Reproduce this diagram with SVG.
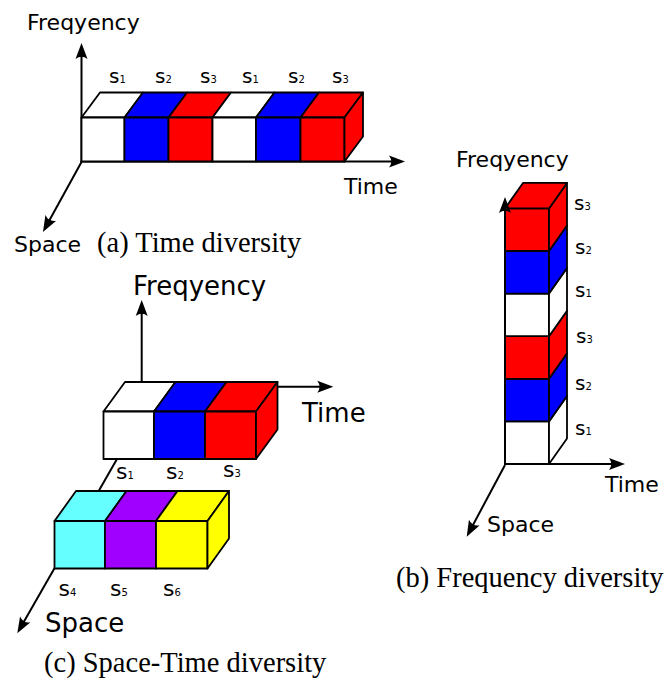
<svg xmlns="http://www.w3.org/2000/svg" width="666" height="679" viewBox="0 0 666 679">
<style>
.ax{stroke:#000;stroke-width:2;fill:none;marker-end:url(#ah)}
.c{stroke:#000;stroke-width:1.8;stroke-linejoin:round}
.w{fill:#fff}.b{fill:#0000ff}.r{fill:#ff0000}.cy{fill:#66ffff}.p{fill:#a000ff}.y{fill:#ffff00}
.lab{font-family:"DejaVu Sans",Verdana,sans-serif;fill:#000}
.cap{font-family:"Liberation Serif","Times New Roman",serif;font-size:28.5px;fill:#000}
.s{font-family:"DejaVu Sans",Verdana,sans-serif;font-size:20px;fill:#000}
.s2{font-family:"DejaVu Sans",Verdana,sans-serif;font-size:22px;fill:#000}
.sub{font-size:10px}
</style>
<defs>
<marker id="ah" markerUnits="userSpaceOnUse" markerWidth="30" markerHeight="30" viewBox="-15 -15 30 30" refX="0" refY="0" orient="auto">
<path d="M4,0 L-12,-6 Q-7.5,0 -12,6 Z" fill="#000"/>
</marker>
</defs>

<g id="connectors">
<line class="ax" x1="81.5" y1="162" x2="81.5" y2="47"/>
<line class="ax" x1="80.5" y1="161.5" x2="401" y2="161.5"/>
<line class="ax" x1="81.5" y1="162" x2="44.9" y2="228.5"/>
<line class="ax" x1="141.7" y1="405" x2="141.7" y2="304"/>
<line class="ax" x1="250" y1="386.7" x2="329.3" y2="386.7"/>
<line class="ax" x1="125" y1="445" x2="19.3" y2="629.8"/>
<line class="ax" x1="504" y1="464" x2="621" y2="464"/>
<line class="ax" x1="505" y1="465" x2="468.6" y2="533.2"/>
</g>

<g id="panel-a">
<g id="a-cube1"><polygon class="c w" points="81.5,117.5 124.5,117.5 143,92.5 100,92.5"/><rect class="c w" x="81.5" y="117.5" width="43" height="44"/></g>
<g id="a-cube2"><polygon class="c b" points="124.5,117.5 168.5,117.5 187,92.5 143,92.5"/><rect class="c b" x="124.5" y="117.5" width="44" height="44"/></g>
<g id="a-cube3"><polygon class="c r" points="168.5,117.5 212.5,117.5 231,92.5 187,92.5"/><rect class="c r" x="168.5" y="117.5" width="44" height="44"/></g>
<g id="a-cube4"><polygon class="c w" points="212.5,117.5 256,117.5 274.5,92.5 231,92.5"/><rect class="c w" x="212.5" y="117.5" width="43.5" height="44"/></g>
<g id="a-cube5"><polygon class="c b" points="256,117.5 300.5,117.5 319,92.5 274.5,92.5"/><rect class="c b" x="256" y="117.5" width="44.5" height="44"/></g>
<g id="a-cube6"><polygon class="c r" points="300.5,117.5 344.5,117.5 363,92.5 319,92.5"/><rect class="c r" x="300.5" y="117.5" width="44" height="44"/><polygon class="c r" points="344.5,117.5 363,92.5 363,136.5 344.5,161.5"/></g>
<g id="a-labels">
<text class="s" x="109" y="82.5">s<tspan class="sub">1</tspan></text>
<text class="s" x="155" y="82.5">s<tspan class="sub">2</tspan></text>
<text class="s" x="200" y="82.5">s<tspan class="sub">3</tspan></text>
<text class="s" x="242" y="82.5">s<tspan class="sub">1</tspan></text>
<text class="s" x="288" y="82.5">s<tspan class="sub">2</tspan></text>
<text class="s" x="332" y="82.5">s<tspan class="sub">3</tspan></text>
<text class="lab" x="27" y="30" font-size="22">Freqyency</text>
<text class="lab" x="344" y="194" font-size="22">Time</text>
<text class="lab" x="14" y="252" font-size="22">Space</text>
<text class="cap" x="97" y="252">(a) Time diversity</text>
</g>
</g>

<g id="panel-b">
<g id="b-cube1"><rect class="c w" x="505" y="421.4" width="44" height="42.6"/><polygon class="c w" points="549,421.4 567,395.9 567,438.5 549,464"/></g>
<g id="b-cube2"><rect class="c b" x="505" y="378.8" width="44" height="42.6"/><polygon class="c b" points="549,378.8 567,353.3 567,395.9 549,421.4"/></g>
<g id="b-cube3"><rect class="c r" x="505" y="336.2" width="44" height="42.6"/><polygon class="c r" points="549,336.2 567,310.7 567,353.3 549,378.8"/></g>
<g id="b-cube4"><rect class="c w" x="505" y="293.6" width="44" height="42.6"/><polygon class="c w" points="549,293.6 567,268.1 567,310.7 549,336.2"/></g>
<g id="b-cube5"><rect class="c b" x="505" y="251" width="44" height="42.6"/><polygon class="c b" points="549,251 567,225.5 567,268.1 549,293.6"/></g>
<g id="b-cube6"><rect class="c r" x="505" y="208.4" width="44" height="42.6"/><polygon class="c r" points="549,208.4 567,182.9 567,225.5 549,251"/><polygon class="c r" points="505,208.4 549,208.4 567,182.9 523,182.9"/></g>
<line class="ax" x1="505" y1="465" x2="505" y2="201"/>
<g id="b-labels">
<text class="s" x="574" y="210">s<tspan class="sub">3</tspan></text>
<text class="s" x="575" y="254">s<tspan class="sub">2</tspan></text>
<text class="s" x="575" y="297">s<tspan class="sub">1</tspan></text>
<text class="s" x="576" y="342.5">s<tspan class="sub">3</tspan></text>
<text class="s" x="575" y="390">s<tspan class="sub">2</tspan></text>
<text class="s" x="575" y="435">s<tspan class="sub">1</tspan></text>
<text class="lab" x="456" y="166.5" font-size="22">Freqyency</text>
<text class="lab" x="605" y="492" font-size="22">Time</text>
<text class="lab" x="487" y="531.5" font-size="22">Space</text>
<text class="cap" x="396" y="587">(b) Frequency diversity</text>
</g>
</g>

<g id="panel-c">
<g id="c-cube1"><polygon class="c w" points="103.5,411.5 154,411.5 175.5,382 125,382"/><rect class="c w" x="103.5" y="411.5" width="50.5" height="47.5"/></g>
<g id="c-cube2"><polygon class="c b" points="154,411.5 205,411.5 226.5,382 175.5,382"/><rect class="c b" x="154" y="411.5" width="51" height="47.5"/></g>
<g id="c-cube3"><polygon class="c r" points="205,411.5 256,411.5 277.5,382 226.5,382"/><rect class="c r" x="205" y="411.5" width="51" height="47.5"/><polygon class="c r" points="256,411.5 277.5,382 277.5,429.5 256,459"/></g>
<g id="c-cube4"><polygon class="c cy" points="54.5,521 105,521 126.5,491 76,491"/><rect class="c cy" x="54.5" y="521" width="50.5" height="47.5"/></g>
<g id="c-cube5"><polygon class="c p" points="105,521 156,521 177.5,491 126.5,491"/><rect class="c p" x="105" y="521" width="51" height="47.5"/></g>
<g id="c-cube6"><polygon class="c y" points="156,521 207.5,521 229,491 177.5,491"/><rect class="c y" x="156" y="521" width="51.5" height="47.5"/><polygon class="c y" points="207.5,521 229,491 229,538.5 207.5,568.5"/></g>
<g id="c-labels">
<text class="s2" x="116" y="478.5">s<tspan class="sub" font-size="11">1</tspan></text>
<text class="s2" x="166" y="478.5">s<tspan class="sub" font-size="11">2</tspan></text>
<text class="s2" x="223" y="477">s<tspan class="sub" font-size="11">3</tspan></text>
<text class="s2" x="58.5" y="596">s<tspan class="sub" font-size="11">4</tspan></text>
<text class="s2" x="110" y="596">s<tspan class="sub" font-size="11">5</tspan></text>
<text class="s2" x="163" y="596">s<tspan class="sub" font-size="11">6</tspan></text>
<text class="lab" x="133" y="294.5" font-size="26">Freqyency</text>
<text class="lab" x="302" y="421.5" font-size="26">Time</text>
<text class="lab" x="45" y="631.5" font-size="26">Space</text>
<text class="cap" x="44" y="671.5">(c) Space-Time diversity</text>
</g>
</g>
</svg>
